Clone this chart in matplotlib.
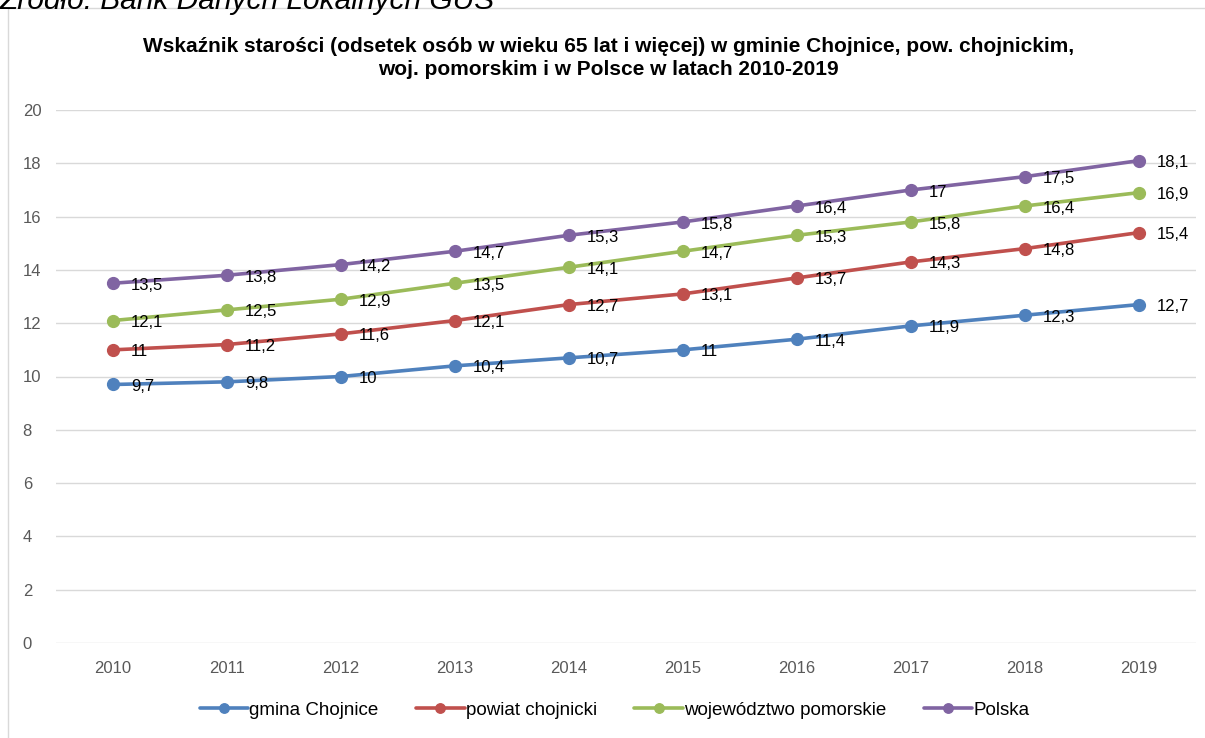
import matplotlib
matplotlib.use("Agg")
import matplotlib.pyplot as plt
from matplotlib.patches import Rectangle

plt.rcParams['font.family'] = ['Liberation Sans', 'DejaVu Sans']

# data
years = ['2010', '2011', '2012', '2013', '2014', '2015', '2016', '2017', '2018', '2019']
gmina = [9.7, 9.8, 10, 10.4, 10.7, 11, 11.4, 11.9, 12.3, 12.7]
powiat = [11, 11.2, 11.6, 12.1, 12.7, 13.1, 13.7, 14.3, 14.8, 15.4]
wojewodztwo = [12.1, 12.5, 12.9, 13.5, 14.1, 14.7, 15.3, 15.8, 16.4, 16.9]
polska = [13.5, 13.8, 14.2, 14.7, 15.3, 15.8, 16.4, 17, 17.5, 18.1]
series_names = ['gmina Chojnice', 'powiat chojnicki', 'województwo pomorskie', 'Polska']
y_ticks = [0, 2, 4, 6, 8, 10, 12, 14, 16, 18, 20]

colors = ['#4F81BD', '#C0504D', '#9BBB59', '#8064A2']
title = ('Wskaźnik starości (odsetek osób w wieku 65 lat i więcej) w gminie Chojnice, pow. chojnickim,\n'
         'woj. pomorskim i w Polsce w latach 2010-2019')


def fmt(v):
    s = f'{v:g}'
    return s.replace('.', ',')


fig = plt.figure(figsize=(12.05, 7.38), dpi=100)
fig.patch.set_facecolor('white')

# chart frame
fig.add_artist(Rectangle((8 / 1205, -0.01), 1.2, 1 - 8 / 738 + 0.01,
                         transform=fig.transFigure, fill=False,
                         edgecolor='#D9D9D9', linewidth=1))

# source line, cut off at the top of the picture
fig.text(0.0, 1 - 9 / 738, 'Źródło: Bank Danych Lokalnych GUS', fontsize=21.5,
         style='italic', ha='left', va='baseline')

ax = fig.add_axes([56 / 1205, 1 - 643 / 738, (1196 - 56) / 1205, (643 - 110) / 738])
x = list(range(len(years)))
for vals, name, col in zip([gmina, powiat, wojewodztwo, polska], series_names, colors):
    ax.plot(x, vals, color=col, linewidth=2.6, marker='o', markersize=8.5,
            label=name, solid_capstyle='round')
    for xi, v in zip(x, vals):
        ax.annotate(fmt(v), (xi, v), xytext=(13, -1.5), textcoords='offset points',
                    ha='left', va='center', fontsize=12, color='black')

ax.set_xlim(-0.5, len(years) - 0.5)
ax.set_ylim(0, 20)
ax.set_yticks(y_ticks)
ax.set_yticklabels([str(t) for t in y_ticks])
ax.set_xticks(x)
ax.set_xticklabels(years)
ax.tick_params(axis='both', length=0, labelsize=12, labelcolor='#595959')
ax.tick_params(axis='x', pad=13)
ax.tick_params(axis='y', pad=24)
for lbl in ax.get_yticklabels():
    lbl.set_horizontalalignment('left')
ax.grid(axis='y', color='#D9D9D9', linewidth=1)
ax.set_axisbelow(True)
for sp in ax.spines.values():
    sp.set_visible(False)

fig.text(0.505, 1 - 58 / 738, title, ha='center', va='center', fontsize=15,
         fontweight='bold', linespacing=1.25)

fig.legend(loc='center', bbox_to_anchor=(0.51, 1 - 710 / 738), ncol=4, frameon=False,
           fontsize=13.5, handlelength=2.6, handletextpad=0.05, columnspacing=2.0,
           markerscale=0.8)

fig.savefig('out.png', dpi=100, facecolor='white')
